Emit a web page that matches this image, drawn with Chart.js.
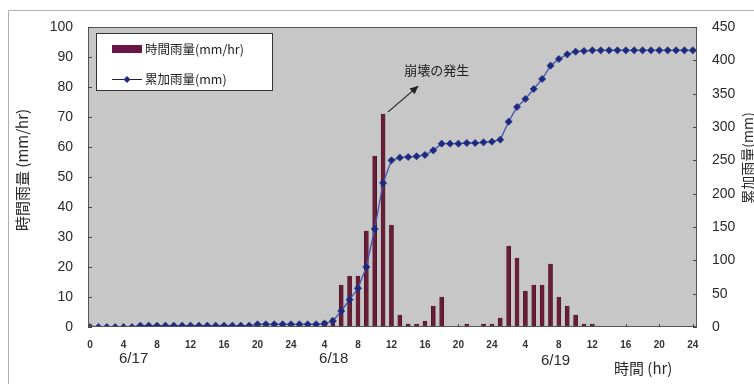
<!DOCTYPE html>
<html><head><meta charset="utf-8">
<script src="https://cdn.jsdelivr.net/npm/chart.js@4.4.1/dist/chart.umd.min.js"></script>
<style>html,body{margin:0;padding:0;background:#fff}#wrap{width:754px;height:385px;position:relative}</style>
</head><body><div id="wrap"><canvas id="c" width="754" height="385"></canvas></div>
<script>
const hours = [0,1,2,3,4,5,6,7,8,9,10,11,12,13,14,15,16,17,18,19,20,21,22,23,24,25,26,27,28,29,30,31,32,33,34,35,36,37,38,39,40,41,42,43,44,45,46,47,48,49,50,51,52,53,54,55,56,57,58,59,60,61,62,63,64,65,66,67,68,69,70,71,72];
const hourlyRain = [0,0,0,0,0,0,1,0,0,0,0,0,0,0,0,0,0,0,0,0,1,0,0,0,0,0,0,0,2,3,14,17,17,32,57,71,34,4,1,1,2,7,10,0,0,1,0,1,1,3,27,23,12,14,14,21,10,7,4,1,1,0,0,0,0,0,0,0,0,0,0,0,0];
const cumulativeRain = [0,0,0,0,0,0,2,2,2,2,2,2,2,2,2,2,2,2,2,2,4,4,4,4,4,4,4,4,5,9,24,41,58,90,147,216,250,254,255,256,258,265,275,275,275,276,276,277,278,281,308,330,342,357,372,392,402,409,413,414,415,415,415,415,415,415,415,415,415,415,415,415,415];
const xTickHours = [0,4,8,12,16,20,24,28,32,36,40,44,48,52,56,60,64,68,72];
const xTickLabels = ['0','4','8','12','16','20','24','4','8','12','16','20','24','4','8','12','16','20','24'];
const dateLabels = ['6/17','6/18','6/19'];
const dateLabelHours = [5.2,29.1,55.6];
const seriesNames = ['時間雨量(mm/hr)','累加雨量(mm)'];
const leftTitle = '時間雨量 (mm/hr)';
const rightTitle = '累加雨量(mm)';
const xTitle = '時間 (hr)';
const noteText = '崩壊の発生';

const FONT = '"Liberation Sans", Arial, sans-serif';
const CJK = '"Noto Sans CJK JP", "Liberation Sans", sans-serif';
const BAR_COLOR = '#6a1d36';

const deco = {
  id: 'deco',
  beforeDraw(chart) {
    const {ctx, chartArea: a} = chart;
    ctx.save();
    ctx.fillStyle = '#c7c7c7';
    ctx.fillRect(a.left, a.top, a.right - a.left, a.bottom - a.top);
    ctx.strokeStyle = '#b0b0b0'; ctx.lineWidth = 1;
    ctx.beginPath(); ctx.moveTo(8.5, 384); ctx.lineTo(8.5, 10.5); ctx.lineTo(754, 10.5); ctx.stroke();
    ctx.restore();
  },
  afterDraw(chart) {
    const {ctx, chartArea: a, scales} = chart;
    const x = scales.x, y = scales.y, y1 = scales.y1;
    ctx.save();
    ctx.strokeStyle = '#555'; ctx.lineWidth = 1;
    ctx.strokeRect(a.left + 0.5, a.top + 0.5, a.right - a.left - 1, a.bottom - a.top - 1);
    ctx.strokeStyle = '#444';
    ctx.beginPath();
    y.ticks.forEach(t => { const py = Math.round(y.getPixelForValue(t.value)) + 0.5; ctx.moveTo(a.left, py); ctx.lineTo(a.left + 4, py); });
    y1.ticks.forEach(t => { const py = Math.round(y1.getPixelForValue(t.value)) + 0.5; ctx.moveTo(a.right - 4, py); ctx.lineTo(a.right, py); });
    xTickHours.forEach(h => { const px = Math.round(x.getPixelForValue(h)) + 0.5; ctx.moveTo(px, a.bottom); ctx.lineTo(px, a.bottom - 3); });
    ctx.stroke();
    ctx.fillStyle = '#2a2a2a'; ctx.font = '15px ' + FONT; ctx.textAlign = 'center'; ctx.textBaseline = 'middle';
    dateLabels.forEach((d, i) => ctx.fillText(d, x.getPixelForValue(dateLabelHours[i]), i === 2 ? 361 : 359));
    ctx.font = '15px ' + CJK; ctx.textAlign = 'left';
    ctx.fillText(xTitle, 614, 368);
    ctx.save(); ctx.translate(22, 170); ctx.rotate(-Math.PI / 2);
    ctx.font = '15px ' + CJK; ctx.textAlign = 'center'; ctx.fillText(leftTitle, 0, 0); ctx.restore();
    ctx.save(); ctx.translate(748, 158); ctx.rotate(-Math.PI / 2);
    ctx.font = '14px ' + CJK; ctx.textAlign = 'center'; ctx.fillText(rightTitle, 0, 0); ctx.restore();
    ctx.font = '13px ' + CJK; ctx.textAlign = 'center'; ctx.fillStyle = '#222';
    ctx.fillText(noteText, x.getPixelForValue(41.4), y.getPixelForValue(85.7));
    const tx = x.getPixelForValue(35.6), ty = y.getPixelForValue(71.7);
    const hx = x.getPixelForValue(39.2), hy = y.getPixelForValue(80.3);
    ctx.strokeStyle = '#222'; ctx.lineWidth = 1.2;
    ctx.beginPath(); ctx.moveTo(tx, ty); ctx.lineTo(hx, hy); ctx.stroke();
    const ang = Math.atan2(hy - ty, hx - tx);
    ctx.beginPath(); ctx.moveTo(hx, hy);
    ctx.lineTo(hx - 9 * Math.cos(ang - 0.45), hy - 9 * Math.sin(ang - 0.45));
    ctx.lineTo(hx - 9 * Math.cos(ang + 0.45), hy - 9 * Math.sin(ang + 0.45));
    ctx.closePath(); ctx.fillStyle = '#222'; ctx.fill();
    const lx = 96, ly = 33, lw = 176, lh = 57;
    ctx.fillStyle = '#fff'; ctx.fillRect(lx, ly, lw, lh);
    ctx.strokeStyle = '#333'; ctx.lineWidth = 1; ctx.strokeRect(lx + 0.5, ly + 0.5, lw, lh);
    ctx.fillStyle = '#6b1446'; ctx.fillRect(112, 45, 30, 8);
    ctx.strokeStyle = '#2a1a40'; ctx.lineWidth = 1;
    ctx.beginPath(); ctx.moveTo(112, 79.5); ctx.lineTo(142, 79.5); ctx.stroke();
    ctx.fillStyle = '#1c2a80';
    ctx.beginPath(); ctx.moveTo(127, 76); ctx.lineTo(130.5, 79.5); ctx.lineTo(127, 83); ctx.lineTo(123.5, 79.5); ctx.closePath(); ctx.fill();
    ctx.fillStyle = '#222'; ctx.font = '12.5px ' + CJK; ctx.textAlign = 'left'; ctx.textBaseline = 'middle';
    ctx.fillText(seriesNames[0], 145, 49);
    ctx.fillText(seriesNames[1], 145, 79);
    ctx.restore();
  }
};

new Chart(document.getElementById('c'), {
  data: {
    datasets: [
      {
        type: 'line', label: seriesNames[1], yAxisID: 'y1', order: 0,
        data: hours.map((h, i) => ({x: h, y: cumulativeRain[i]})),
        borderColor: '#4656b0', borderWidth: 1.3, tension: 0,
        pointStyle: 'rectRot', pointRadius: 3.6, pointBackgroundColor: '#1c2a80', pointBorderColor: '#1c2a80', pointBorderWidth: 0.6
      },
      {
        type: 'bar', label: seriesNames[0], yAxisID: 'y', order: 1,
        data: hours.map((h, i) => ({x: h, y: hourlyRain[i]})),
        backgroundColor: BAR_COLOR, borderColor: '#3a0d1c', borderWidth: 0.5, barThickness: 4
      }
    ]
  },
  options: {
    responsive: false, animation: false, devicePixelRatio: 1,
    layout: {padding: {top: 27, left: 0, right: 0, bottom: 0}},
    plugins: {legend: {display: false}, tooltip: {enabled: false}, title: {display: false}},
    scales: {
      x: {
        type: 'linear', min: -0.25, max: 72.5, offset: false,
        grid: {display: false, drawTicks: false}, border: {display: false},
        afterBuildTicks: s => { s.ticks = xTickHours.map(v => ({value: v})); },
        afterFit: s => { s.height = 58; },
        ticks: {
          padding: 12, maxRotation: 0, autoSkip: false, color: '#333',
          font: {family: FONT, size: 10, weight: 'bold'},
          callback: v => { const i = xTickHours.indexOf(v); return i >= 0 ? xTickLabels[i] : ''; }
        }
      },
      y: {
        position: 'left', min: 0, max: 100,
        grid: {display: false, drawTicks: false}, border: {display: false},
        afterFit: s => { s.width = 88; },
        ticks: {stepSize: 10, padding: 15, color: '#2a2a2a', font: {family: FONT, size: 14}}
      },
      y1: {
        position: 'right', min: 0, max: 450,
        grid: {display: false, drawTicks: false}, border: {display: false},
        afterFit: s => { s.width = 57; },
        ticks: {stepSize: 50, padding: 15, color: '#2a2a2a', font: {family: FONT, size: 14}}
      }
    }
  },
  plugins: [deco]
});
</script></body></html>
